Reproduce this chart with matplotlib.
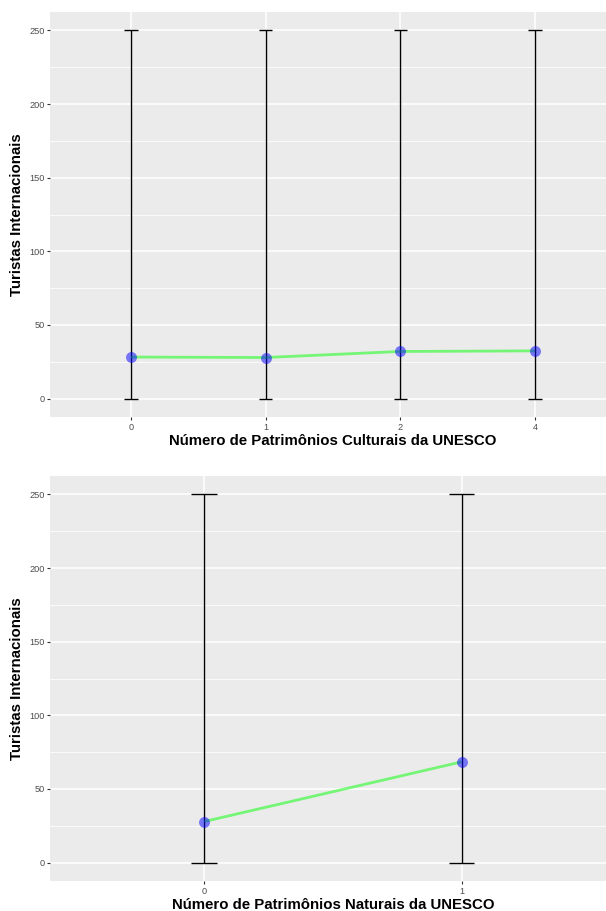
import matplotlib
matplotlib.use("Agg")
import matplotlib.pyplot as plt
import numpy as np

plt.rcParams['font.family'] = ['Liberation Sans', 'DejaVu Sans']

# top panel: cultural heritage sites
cult_cats = ["0", "1", "2", "4"]
cult_mean = [28.2, 27.9, 32.0, 32.4]
cult_low = [0, 0, 0, 0]
cult_high = [250, 250, 250, 250]

# bottom panel: natural heritage sites
nat_cats = ["0", "1"]
nat_mean = [27.9, 68.4]
nat_low = [0, 0]
nat_high = [250, 250]

y_ticks = [0, 50, 100, 150, 200, 250]
y_minor = [25, 75, 125, 175, 225]

bg = "#EBEBEB"
line_col = "#00FF00"
pt_col = "#0000FF"


def panel(ax, cats, mean, low, high, xlabel):
    x = np.arange(len(cats))
    ax.set_facecolor(bg)
    for s in ax.spines.values():
        s.set_visible(False)
    # grid
    for v in y_minor:
        ax.axhline(v, color="white", lw=0.55, zorder=0)
    for v in y_ticks:
        ax.axhline(v, color="white", lw=1.1, zorder=0)
    for xi in x:
        ax.axvline(xi, color="white", lw=1.1, zorder=0)
    # error bars (width 0.1 in data units, like geom_errorbar)
    ax.vlines(x, low, high, color="black", lw=1.0, zorder=2)
    ax.hlines(low, x - 0.05, x + 0.05, color="black", lw=1.0, zorder=2)
    ax.hlines(high, x - 0.05, x + 0.05, color="black", lw=1.0, zorder=2)
    ax.plot(x, mean, color=line_col, alpha=0.5, lw=2.0, zorder=3,
            solid_capstyle="butt")
    ax.plot(x, mean, "o", color=pt_col, alpha=0.5, ms=7.9, mew=0, zorder=4)
    ax.set_xlim(-0.6, len(cats) - 1 + 0.6)
    ax.set_ylim(-12.5, 262.5)
    ax.set_xticks(x)
    ax.set_xticklabels(cats)
    ax.set_yticks(y_ticks)
    ax.tick_params(length=2, width=0.8, color="#333333", labelcolor="#4D4D4D",
                   labelsize=6.6, pad=2)
    ax.set_xlabel(xlabel, fontsize=10.8, fontweight="bold", labelpad=2)
    ax.set_ylabel("Turistas Internacionais", fontsize=10.8, fontweight="bold",
                  labelpad=4)


fig = plt.figure(figsize=(6.06, 9.11), dpi=100)
ax1 = fig.add_axes([50 / 606, (911 - 417) / 911, 566 / 606, 405 / 911])
ax2 = fig.add_axes([50 / 606, (911 - 881) / 911, 566 / 606, 405 / 911])

panel(ax1, cult_cats, cult_mean, cult_low, cult_high,
      "Número de Patrimônios Culturais da UNESCO")
panel(ax2, nat_cats, nat_mean, nat_low, nat_high,
      "Número de Patrimônios Naturais da UNESCO")

fig.savefig("out.png", dpi=100)
